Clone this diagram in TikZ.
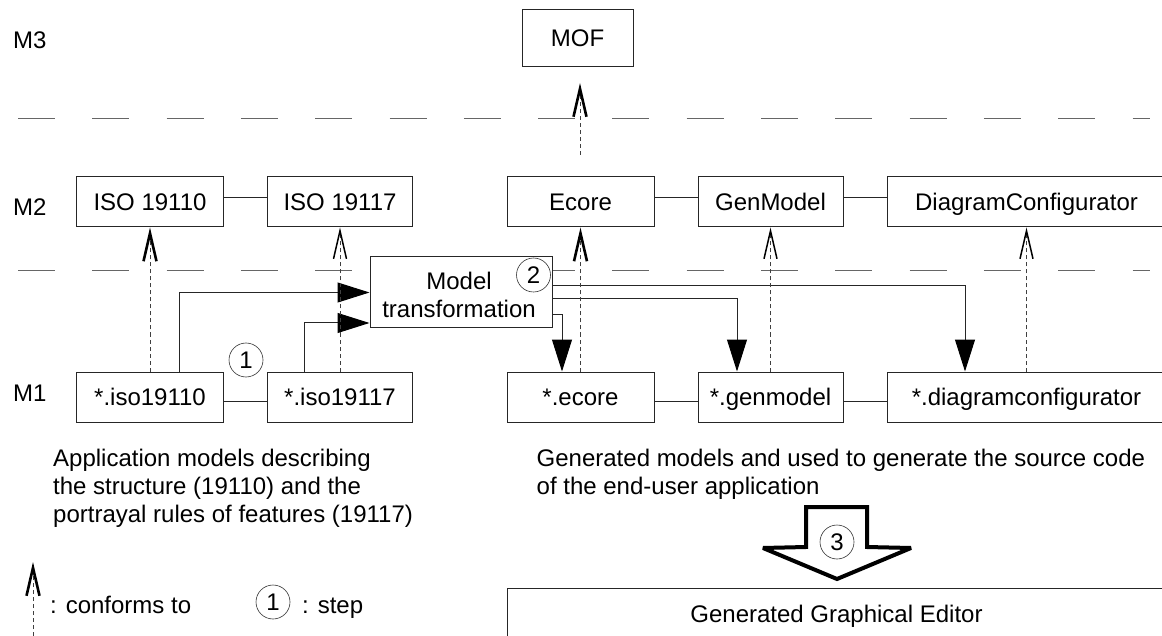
\documentclass[tikz,border=0pt]{standalone}
\usepackage{fontspec}
\setmainfont{Liberation Sans}
\usetikzlibrary{arrows.meta,calc}
\begin{document}
\begin{tikzpicture}[x=1pt,y=-1pt,
  every node/.style={font=\fontsize{24}{28}\selectfont},
  box/.style={draw=black!85, line width=1pt, fill=white, minimum height=50pt, inner sep=0pt, text height=17pt, text depth=0pt},
  link/.style={draw=black!85, line width=1pt},
  conf/.style={draw=black!75, line width=0.8pt, dash pattern=on 4pt off 3pt, -{Straight Barb[length=28pt,width=13pt,line width=1.5pt,color=black]}},
  confb/.style={draw=black!75, line width=0.8pt, dash pattern=on 4pt off 3pt, -{Straight Barb[length=28pt,width=13pt,line width=2.6pt,color=black]}},
  trans/.style={draw=black!85, line width=1pt, -{Triangle[length=32pt,width=20pt,color=black]}},
  sep/.style={draw=black!60, line width=0.9pt, dash pattern=on 37pt off 37.3pt},
  stepc/.style={draw=black!80, fill=white, circle, line width=0.6pt, minimum size=34pt, inner sep=0pt, text height=17pt, text depth=0pt},
  lvl/.style={anchor=west, inner sep=0pt},
  txt/.style={inner sep=0pt, align=left}
]
\useasboundingbox (0,0) rectangle (1162,636);
\fill[white] (0,0) rectangle (1162,636);

% level separators
\draw[sep] (18,118) -- (1150,118);
\draw[sep] (18,270) -- (1150,270);

% level labels
\node[lvl] (m3) at (13,40) {M3};
\node[lvl] (m2) at (13,207.5) {M2};
\node[lvl] (m1) at (13,393.5) {M1};

% M3
\node[box, minimum width=111pt, minimum height=57pt] (mof) at (577.5,38.5) {MOF};

% M2
\node[box, minimum width=146.5pt] (i10) at (150,202) {ISO 19110};
\node[box, minimum width=145.5pt] (i17) at (340,202) {ISO 19117};
\node[box, minimum width=147pt] (ec) at (580.5,202) {Ecore};
\node[box, minimum width=145pt] (gm) at (770.5,202) {GenModel};
\node[box, minimum width=279pt] (dc) at (1026.5,202) {DiagramConfigurator};

% M1
\node[box, minimum width=146.5pt] (s10) at (150,397) {*.iso19110};
\node[box, minimum width=145.5pt] (s17) at (340,397) {*.iso19117};
\node[box, minimum width=147pt] (se) at (580.5,397) {*.ecore};
\node[box, minimum width=145pt] (sg) at (770.5,397) {*.genmodel};
\node[box, minimum width=279pt] (sd) at (1026.5,397) {*.diagramconfigurator};

% model transformation
\node[box, minimum width=182pt, minimum height=71pt] (mt) at (461,292.5) {};
\node[txt, align=center] (mtt) at (459,294.5) {Model\\transformation};

% connectors between boxes
\draw[link] ([yshift=4pt]i10.east) -- ([yshift=4pt]i17.west);
\draw[link] ([yshift=4pt]ec.east) -- ([yshift=4pt]gm.west);
\draw[link] ([yshift=4pt]gm.east) -- ([yshift=4pt]dc.west);
\draw[link] ([yshift=-4pt]s10.east) -- ([yshift=-4pt]s17.west);
\draw[link] ([yshift=-4pt]se.east) -- ([yshift=-4pt]sg.west);
\draw[link] ([yshift=-4pt]sg.east) -- ([yshift=-4pt]sd.west);

% transformation arrows
\draw[trans] ([xshift=29pt]s10.north) |- (mt.west);
\draw[trans] ([xshift=-36pt]s17.north) |- ([yshift=-30.5pt]mt.west);
\draw[trans] ([yshift=-22.5pt]mt.east) -| ([xshift=-18.5pt]se.north);
\draw[trans] ([yshift=-6.5pt]mt.east) -| ([xshift=-33.5pt]sg.north);
\draw[trans] ([yshift=6.5pt]mt.east) -| ([xshift=-61.5pt]sd.north);

% conforms-to arrows
\draw[confb] (s10.north) -- (i10.south);
\draw[conf] (s17.north) -- (i17.south);
\draw[confb] (se.north) -- (ec.south);
\draw[conf] (sg.north) -- (gm.south);
\draw[conf] (sd.north) -- (dc.south);
\coordinate (mofs) at (580,155);
\coordinate (moft) at (580,83);
\draw[confb] (mofs) -- (moft);

% step circles
\node[stepc] (c1) at (246,360) {1};
\node[stepc] (c2) at (533.5,275) {2};

% descriptions
\node[txt, anchor=north west] (appl) at (53,448.5) {Application models describing\\the structure (19110) and the\\portrayal rules of features (19117)};
\node[txt, anchor=north west] (gen) at (536.5,448.5) {Generated models and used to generate the source code\\of the end-user application};

% step 3 big arrow
\draw[line width=4pt, line join=miter, miter limit=2] (806,547) -- (806,507) -- (867,507) -- (867,547) -- (911,548) -- (837,579) -- (763,548) -- cycle;
\node[stepc] (c3) at (837,542) {3};

% generated editor
\node[box, minimum width=659pt, minimum height=52pt] (gge) at (836.5,614) {Generated Graphical Editor};

% legend
\coordinate (lgs) at (33,636);
\coordinate (lgt) at (33,562);
\draw[confb] (lgs) -- (lgt);
\node[txt, anchor=base west] (lconf) at (50,613) {: conforms to};
\node[stepc] (c4) at (273,602) {1};
\node[txt, anchor=base west] (lstep) at (302,613) {: step};
\end{tikzpicture}
\end{document}
